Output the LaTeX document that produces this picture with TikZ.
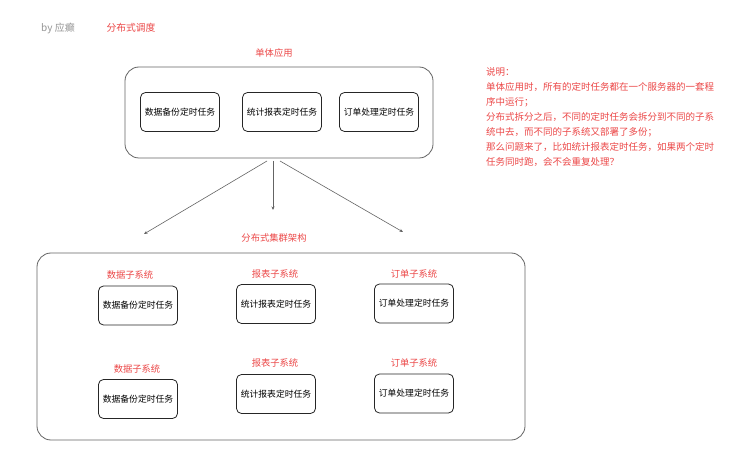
\documentclass[tikz,border=0pt]{standalone}
\usepackage{fontspec}
\setmainfont{Noto Sans CJK SC}
\usetikzlibrary{arrows.meta}
\definecolor{redtxt}{RGB}{236,72,72}
\definecolor{graytxt}{RGB}{150,150,150}
\definecolor{edgegray}{RGB}{100,100,100}
\begin{document}
\begin{tikzpicture}[x=1pt,y=-1pt,
  task/.style={draw=black!85,line width=0.8pt,rounded corners=5pt,minimum width=79pt,minimum height=39pt,inner sep=0pt,font=\fontsize{8.8}{10}\selectfont},
  outer/.style={draw=edgegray,line width=0.8pt,rounded corners=14pt},
  redlab/.style={text=redtxt,font=\fontsize{9.3}{11}\selectfont,inner sep=0pt},
  conn/.style={draw=edgegray,line width=0.6pt,-{Stealth[length=3.5pt,width=3pt]}}]
\useasboundingbox (0,0) rectangle (745,449);
\fill[white] (0,0) rectangle (745,449);
\node[text=graytxt,font=\fontsize{10}{12}\selectfont,inner sep=0pt] (by) at (58,28) {by 应癫};
\node[redlab,font=\fontsize{9.8}{11}\selectfont] (title) at (131,28) {分布式调度};
% monolith
\node[redlab] (mono) at (274,53) {单体应用};
\node[outer,minimum width=308pt,minimum height=91pt] (mbox) at (279,112.5) {};
\node[task] (m1) at (180,112) {数据备份定时任务};
\node[task] (m2) at (282,112) {统计报表定时任务};
\node[task] (m3) at (379,112) {订单处理定时任务};
% arrows
\coordinate (s1) at (267,161);
\coordinate (s2) at (273,161);
\coordinate (s3) at (280,161);
\coordinate (e1) at (144,234);
\coordinate (e2) at (273,210);
\coordinate (e3) at (403,232);
\draw[conn] (s1) -- (e1);
\draw[conn] (s2) -- (e2);
\draw[conn] (s3) -- (e3);
% cluster
\node[redlab] (clus) at (274,238) {分布式集群架构};
\node[outer,minimum width=488pt,minimum height=187pt] (cbox) at (281,346.5) {};
\node[redlab] (l11) at (130,275) {数据子系统};
\node[redlab] (l12) at (275,274) {报表子系统};
\node[redlab] (l13) at (414,274) {订单子系统};
\node[task] (c11) at (138,305.5) {数据备份定时任务};
\node[task] (c12) at (276,304) {统计报表定时任务};
\node[task] (c13) at (414,303.5) {订单处理定时任务};
\node[redlab] (l21) at (137,369) {数据子系统};
\node[redlab] (l22) at (275,363) {报表子系统};
\node[redlab] (l23) at (414,363) {订单子系统};
\node[task] (c21) at (138,399) {数据备份定时任务};
\node[task] (c22) at (276,394) {统计报表定时任务};
\node[task] (c23) at (414,393.5) {订单处理定时任务};
% note
\node[text=redtxt,font=\fontsize{9.5}{15}\selectfont,inner sep=0pt,anchor=north west,align=left] (note) at (486,67) {说明：\\单体应用时，所有的定时任务都在一个服务器的一套程\\序中运行；\\分布式拆分之后，不同的定时任务会拆分到不同的子系\\统中去，而不同的子系统又部署了多份；\\那么问题来了，比如统计报表定时任务，如果两个定时\\任务同时跑，会不会重复处理？};
\end{tikzpicture}
\end{document}
